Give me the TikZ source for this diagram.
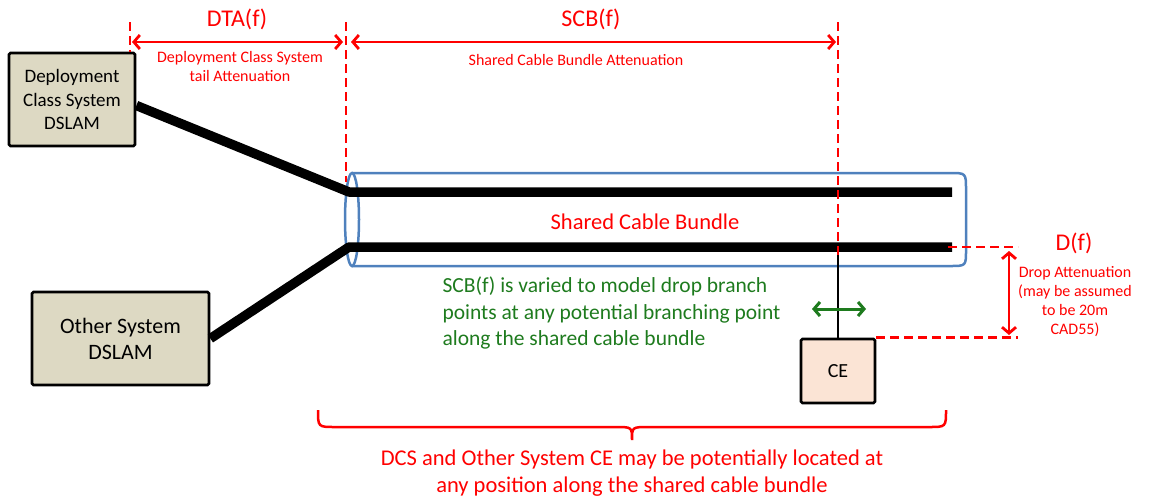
\documentclass[tikz,border=0pt]{standalone}
\usepackage{fontspec}
\setmainfont{Carlito}
\usetikzlibrary{arrows.meta,positioning}

\definecolor{dslamfill}{HTML}{DDD9C3}
\definecolor{cefill}{HTML}{FBE4D5}
\definecolor{cableblue}{HTML}{4F81BD}
\definecolor{notegreen}{HTML}{1E7B1E}

\begin{document}
\begin{tikzpicture}[
  x=1pt,y=-1pt,
  dslam/.style={rectangle,draw,line width=2.8pt,rounded corners=1.5pt,fill=dslamfill,align=center,inner sep=0pt},
  cpe/.style={rectangle,draw,line width=2.8pt,rounded corners=1.5pt,fill=cefill,minimum width=74,minimum height=64,font=\fontsize{20}{24}\selectfont},
  wire/.style={line width=9.5pt,line join=bevel},
  dim/.style={red,line width=2.8pt,dash pattern=on 9pt off 5pt},
  span/.style={red,line width=2.8pt,{Straight Barb[length=6pt,width=14pt]}-{Straight Barb[length=6pt,width=14pt]}},
  big/.style={red,font=\fontsize{24}{28}\selectfont},
  small/.style={red,align=center,font=\fontsize{16}{19}\selectfont},
]
\useasboundingbox (0,0) rectangle (1156,498);

\node [dslam,minimum width=126,minimum height=93,font=\fontsize{19}{23.5}\selectfont] (dcs) at (72,99.5) {Deployment\\Class System\\DSLAM};
\node [dslam,minimum width=177,minimum height=93,font=\fontsize{22}{26}\selectfont] (other) at (120.5,338.5) {Other System\\DSLAM};
\node [cpe] (ce) at (838,371) {CE};

\draw[cableblue,line width=2.5pt] (352,173) -- (950,173) .. controls (966,173) .. (966,190) -- (966,250) .. controls (966,266) .. (950,266) -- (352,266);
\draw[cableblue,line width=2.5pt] (352,219.5) ellipse [x radius=7pt,y radius=46.5pt];

\coordinate (inA) at (349,192);
\coordinate (endA) at (952,192);
\coordinate (inB) at (349,247);
\coordinate (endB) at (952,247);
\draw[wire] ([yshift=-6pt]dcs.east) -- (inA) -- (endA);
\draw[wire] (other.east) -- (inB) -- (endB);
\draw[line width=2.5pt] (838,252) -- (ce.north);

\node [red,font=\fontsize{22.5}{26}\selectfont] (bundle) at (645,222) {Shared Cable Bundle};

\coordinate (t1) at (130,22);
\coordinate (b1) at (130,52);
\coordinate (t2) at (346,22);
\coordinate (b2) at (346,182);
\coordinate (t3) at (838,22);
\coordinate (b3) at (838,256);
\draw[dim] (t1) -- (b1);
\draw[dim] (t2) -- (b2);
\draw[dim] (t3) -- (b3);
\coordinate (a1) at (130,42);
\coordinate (a2) at (346,42);
\coordinate (a3) at (838,42);
\draw[span,shorten <=2,shorten >=3] (a1) -- (a2);
\draw[span,shorten <=5,shorten >=2] (a2) -- (a3);

\node [big] (dta) at (237,19) {DTA(f)};
\node [small] (dtanote) at (240,67) {Deployment Class System\\tail Attenuation};
\node [big] (scb) at (591,19) {SCB(f)};
\node [small] (scbnote) at (576,60) {Shared Cable Bundle Attenuation};

\coordinate (d1) at (948,247);
\coordinate (d2) at (1018,247);
\draw[dim] (d1) -- (d2);
\draw[dim] (ce.north east) -- (ce.north east -| d2);
\coordinate (up) at (1009,251);
\coordinate (dn) at (1009,335);
\draw[span] (up) -- (dn);
\node [big] (drop) at (1074,243) {D(f)};
\node [small] (dropnote) at (1075,302) {Drop Attenuation\\(may be assumed\\to be 20m\\CAD55)};

\node [notegreen,anchor=west,align=left,font=\fontsize{21.5}{26.5}\selectfont] (shift) at (439,313) {SCB(f) is varied to model drop branch\\points at any potential branching point\\along the shared cable bundle};
\coordinate (gl) at (812,309);
\coordinate (gr) at (866,309);
\draw[notegreen,line width=3pt,{Straight Barb[length=6pt,width=14pt]}-{Straight Barb[length=6pt,width=14pt]}] (gl) -- (gr);

\coordinate (br1) at (318,410);
\coordinate (brm) at (632,440);
\coordinate (br2) at (946,410);
\draw[red,line width=2.5pt] (br1) .. controls (318,427) .. (335,427) -- (615,427) .. controls (632,427) .. (brm) .. controls (632,427) .. (649,427) -- (929,427) .. controls (946,427) .. (br2);
\node [red,align=center,font=\fontsize{22.5}{27}\selectfont] (where) at (632,473) {DCS and Other System CE may be potentially located at\\any position along the shared cable bundle};
\end{tikzpicture}
\end{document}
